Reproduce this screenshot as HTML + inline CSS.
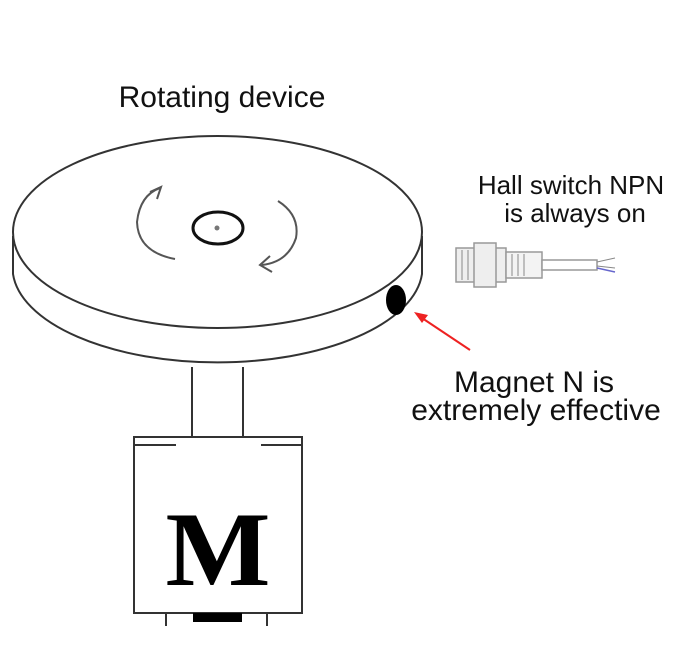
<!DOCTYPE html>
<html><head><style>
body{margin:0;background:#fff;width:700px;height:656px;overflow:hidden}
</style></head><body>
<svg width="700" height="656" viewBox="0 0 700 656" xmlns="http://www.w3.org/2000/svg">
<g fill="none" stroke="#333" stroke-width="2">
<line x1="192" y1="367" x2="192" y2="437"/>
<line x1="243" y1="367" x2="243" y2="437"/>
<path d="M13 236 L13 274 A205 95 0 0 0 422 274 L422 236" fill="#fff"/>
<ellipse cx="217.5" cy="232" rx="204.5" ry="96" fill="#fff"/>
<ellipse cx="218" cy="228" rx="25" ry="16" stroke="#111" stroke-width="3"/>
<path d="M175 259 Q138 252 137 222 Q140 195 160 188" stroke="#555"/>
<path d="M150 192 L161 187 L157 199" stroke="#555"/>
<path d="M278 201 Q300 215 296 238 Q288 262 262 265" stroke="#555"/>
<path d="M270 256 L260 265 L272 272" stroke="#555"/>
<rect x="134" y="437" width="168" height="176" fill="#fff"/>
<line x1="135" y1="445" x2="176" y2="445"/>
<line x1="261" y1="445" x2="301" y2="445"/>
<line x1="166" y1="613" x2="166" y2="626"/>
<line x1="267" y1="613" x2="267" y2="626"/>
</g>
<circle cx="217" cy="228" r="2.5" fill="#777"/>
<ellipse cx="396" cy="300" rx="10" ry="15" fill="#000"/>
<rect x="193" y="613" width="49" height="9" fill="#000"/>
<text x="218" y="585" font-family="Liberation Serif,serif" font-weight="bold" font-size="106" text-anchor="middle" fill="#000" transform="translate(218 0) scale(1.05 1) translate(-218 0)">M</text>
<line x1="470" y1="350" x2="422" y2="318" stroke="#e22" stroke-width="2"/>
<path d="M414 312 L428 315 L422 323 Z" fill="#e22"/>
<g stroke="#999" stroke-width="1.5" fill="#eee">
<rect x="456" y="248" width="50" height="34"/>
<rect x="474" y="243" width="22" height="44"/>
<rect x="506" y="252" width="36" height="26" fill="#f3f3f3"/>
<rect x="542" y="260" width="55" height="10" fill="#fff"/>
</g>
<g stroke="#888" stroke-width="1">
<line x1="462" y1="250" x2="462" y2="280"/><line x1="468" y1="250" x2="468" y2="280"/>
<line x1="512" y1="254" x2="512" y2="276"/><line x1="518" y1="254" x2="518" y2="276"/><line x1="524" y1="254" x2="524" y2="276"/>
<line x1="597" y1="262" x2="615" y2="258"/><line x1="597" y1="266" x2="615" y2="268"/>
</g>
<line x1="597" y1="268" x2="615" y2="272" stroke="#66c" stroke-width="1.5"/>
<g font-family="Liberation Sans,sans-serif" fill="#111">
<text x="222" y="107" text-anchor="middle" font-size="30">Rotating device</text>
<text x="571" y="194" text-anchor="middle" font-size="26">Hall switch NPN</text>
<text x="575" y="222" text-anchor="middle" font-size="26">is always on</text>
<text x="534" y="392" text-anchor="middle" font-size="30">Magnet N is</text>
<text x="536" y="420" text-anchor="middle" font-size="30">extremely effective</text>
</g>
</svg>
</body></html>
